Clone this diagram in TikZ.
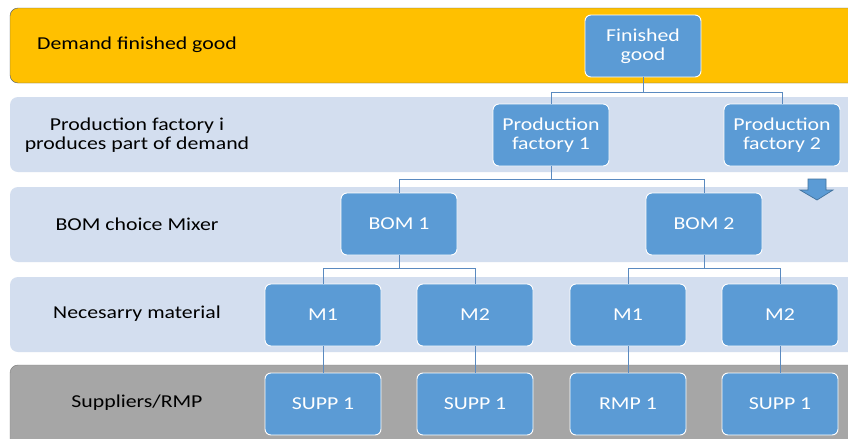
\documentclass[tikz,border=0pt]{standalone}
\usepackage{fontspec}
\setmainfont{Carlito}[FakeStretch=1.2]
\definecolor{demand}{HTML}{FFC000}
\definecolor{demandline}{HTML}{4F5B6B}
\definecolor{rowblue}{HTML}{D3DEEF}
\definecolor{rowgray}{HTML}{A6A6A6}
\definecolor{rowgrayline}{HTML}{7F7F7F}
\definecolor{boxblue}{HTML}{5B9BD5}
\definecolor{boxline}{HTML}{41719C}
\definecolor{linkblue}{HTML}{5A8AC0}
\begin{document}
\begin{tikzpicture}[x=0.03cm,y=-0.03cm,item/.style={shape=rectangle,rounded corners=1.8mm,draw=white,thick,fill=boxblue,text=white,minimum width=3.48cm,minimum height=1.86cm,align=center,font=\fontsize{15.5}{16.5}\selectfont},rowlabel/.style={align=center,font=\fontsize{15.5}{16.5}\selectfont},link/.style={draw=linkblue,line width=0.8pt}]
\useasboundingbox (0,0) rectangle (848,438);
\clip (0,0) rectangle (848,438);
\fill[white] (0,0) rectangle (848,438);
\filldraw[fill=demand,draw=demandline,rounded corners=2.4mm] (10,8) rectangle (880,83);
\fill[rowblue,rounded corners=2.4mm] (10,97) rectangle (880,172);
\fill[rowblue,rounded corners=2.4mm] (10,187) rectangle (880,262);
\fill[rowblue,rounded corners=2.4mm] (10,277) rectangle (880,352);
\filldraw[fill=rowgray,draw=rowgrayline,rounded corners=2.4mm] (10,365) rectangle (880,470);
\node[rowlabel] (ldemand) at (137,45) {Demand finished good};
\node[rowlabel] (lfactory) at (137,135) {Production factory i\\produces part of demand};
\node[rowlabel] (lbom) at (137,224) {BOM choice Mixer};
\node[rowlabel] (lmat) at (137,314) {Necesarry material};
\node[rowlabel] (lsupp) at (137,403) {Suppliers/RMP};
\node[item] (fg) at (643,46) {Finished\\good};
\node[item] (pf1) at (551,135) {Production\\factory 1};
\node[item] (pf2) at (782,135) {Production\\factory 2};
\node[item] (bom1) at (399,224) {BOM 1};
\node[item] (bom2) at (704,224) {BOM 2};
\node[item] (m11) at (323,315) {M1};
\node[item] (m12) at (475,315) {M2};
\node[item] (m21) at (628,315) {M1};
\node[item] (m22) at (780,315) {M2};
\node[item] (s11) at (323,404) {SUPP 1};
\node[item] (s12) at (475,404) {SUPP 1};
\node[item] (r21) at (628,404) {RMP 1};
\node[item] (s22) at (780,404) {SUPP 1};
\coordinate (fgsplit) at (643,92);
\coordinate (pfsplit) at (551,179);
\coordinate (bomsplit1) at (399,268);
\coordinate (bomsplit2) at (704,268);
\draw[link] (fg) -- (fgsplit) -| (pf1);
\draw[link] (fgsplit) -| (pf2);
\draw[link] (pf1) -- (pfsplit) -| (bom1);
\draw[link] (pfsplit) -| (bom2);
\draw[link] (bom1) -- (bomsplit1) -| (m11);
\draw[link] (bomsplit1) -| (m12);
\draw[link] (bom2) -- (bomsplit2) -| (m21);
\draw[link] (bomsplit2) -| (m22);
\draw[link] (m11) -- (s11);
\draw[link] (m12) -- (s12);
\draw[link] (m21) -- (r21);
\draw[link] (m22) -- (s22);
\filldraw[fill=boxblue,draw=boxline,line width=0.6pt] (808,179) -- (826,179) -- (826,190) -- (833,190) -- (817,200) -- (800,190) -- (808,190) -- cycle;
\end{tikzpicture}
\end{document}
